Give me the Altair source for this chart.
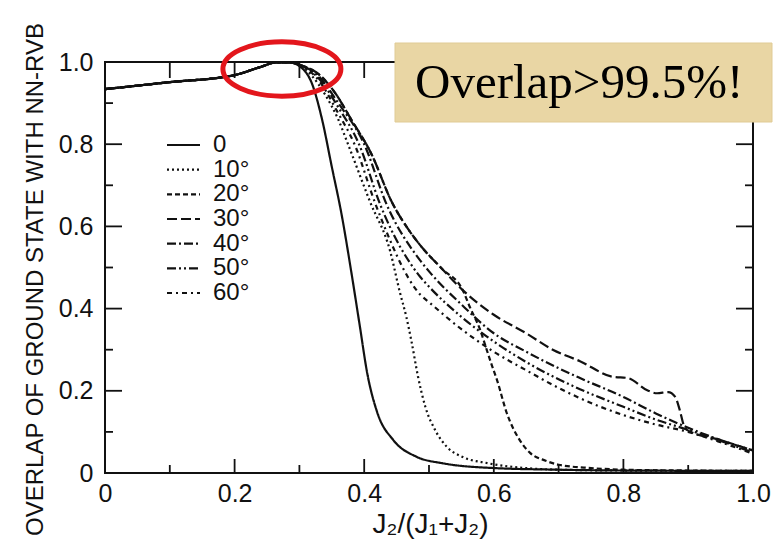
import altair as alt
import pandas as pd

# ---------------- data ----------------
series_labels = ["0", "10°", "20°", "30°", "40°", "50°", "60°"]

shared_x = [0.0, 0.1, 0.2, 0.24, 0.265, 0.285]
shared_y = [0.934, 0.951, 0.968, 0.988, 0.999, 0.999]

x_0 = [0.30, 0.32, 0.335, 0.35, 0.365, 0.38, 0.393, 0.405, 0.42, 0.445, 0.48, 0.52, 0.6, 0.7, 0.8, 1.0]
y_0 = [0.99, 0.945, 0.86, 0.745, 0.63, 0.49, 0.36, 0.24, 0.148, 0.08, 0.04, 0.024, 0.012, 0.008, 0.006, 0.005]

x_10 = [0.30, 0.32, 0.34, 0.36, 0.375, 0.409, 0.44, 0.455, 0.465, 0.473, 0.483, 0.494, 0.51, 0.528, 0.552, 0.59, 0.65, 0.7, 0.8, 1.0]
y_10 = [0.993, 0.965, 0.92, 0.86, 0.8, 0.66, 0.54, 0.44, 0.38, 0.32, 0.235, 0.163, 0.103, 0.063, 0.039, 0.024, 0.012, 0.008, 0.006, 0.005]

x_20 = [0.30, 0.33, 0.355, 0.38, 0.41, 0.444, 0.465, 0.486, 0.52, 0.552, 0.563, 0.579, 0.589, 0.597, 0.605, 0.62, 0.64, 0.656, 0.68, 0.70, 0.75, 0.8, 0.9, 1.0]
y_20 = [0.993, 0.97, 0.925, 0.86, 0.78, 0.655, 0.6, 0.555, 0.497, 0.445, 0.404, 0.348, 0.30, 0.262, 0.226, 0.146, 0.08, 0.049, 0.03, 0.02, 0.012, 0.008, 0.006, 0.005]

x_30 = [0.30, 0.33, 0.355, 0.38, 0.41, 0.444, 0.465, 0.486, 0.52, 0.552, 0.6, 0.65, 0.691, 0.733, 0.784, 0.807, 0.836, 0.852, 0.869, 0.88, 0.887, 0.893, 0.898, 0.95, 1.0]
y_30 = [0.993, 0.97, 0.925, 0.86, 0.78, 0.655, 0.6, 0.555, 0.497, 0.445, 0.385, 0.34, 0.3, 0.272, 0.234, 0.231, 0.202, 0.194, 0.197, 0.185, 0.153, 0.117, 0.105, 0.08, 0.055]

x_40 = [0.30, 0.33, 0.36, 0.40, 0.435, 0.486, 0.502, 0.55, 0.6, 0.65, 0.7, 0.733, 0.8, 0.85, 0.9, 0.95, 1.0]
y_40 = [0.993, 0.965, 0.9, 0.8, 0.652, 0.518, 0.487, 0.41, 0.34, 0.295, 0.255, 0.231, 0.185, 0.145, 0.11, 0.08, 0.055]

x_50 = [0.30, 0.33, 0.36, 0.392, 0.425, 0.486, 0.502, 0.55, 0.6, 0.65, 0.7, 0.733, 0.8, 0.85, 0.9, 0.95, 1.0]
y_50 = [0.993, 0.96, 0.89, 0.8, 0.652, 0.478, 0.45, 0.38, 0.32, 0.27, 0.228, 0.204, 0.161, 0.13, 0.105, 0.078, 0.05]

x_60 = [0.30, 0.33, 0.36, 0.385, 0.418, 0.486, 0.502, 0.55, 0.6, 0.65, 0.7, 0.733, 0.8, 0.85, 0.9, 0.95, 1.0]
y_60 = [0.993, 0.955, 0.875, 0.8, 0.652, 0.435, 0.413, 0.35, 0.295, 0.25, 0.207, 0.182, 0.141, 0.118, 0.1, 0.075, 0.047]

x_major_ticks = [0.0, 0.2, 0.4, 0.6, 0.8, 1.0]
x_minor_ticks = [0.1, 0.3, 0.5, 0.7, 0.9]
y_major_ticks = [0.0, 0.2, 0.4, 0.6, 0.8, 1.0]
y_minor_ticks = [0.1, 0.3, 0.5, 0.7, 0.9]

note_text = "Overlap>99.5%!"
x_title = "J₂/(J₁+J₂)"
y_title = "OVERLAP OF GROUND STATE WITH NN-RVB"

# ---------------- build tables ----------------
xs_all = [x_0, x_10, x_20, x_30, x_40, x_50, x_60]
ys_all = [y_0, y_10, y_20, y_30, y_40, y_50, y_60]
rows = []
for lab, xs, ys in zip(series_labels, xs_all, ys_all):
    full_x = shared_x + xs
    full_y = shared_y + ys
    for i, (a, b) in enumerate(zip(full_x, full_y)):
        rows.append({"series": lab, "x": a, "y": b, "i": i})
curves_df = pd.DataFrame(rows)

W, H = 648, 411
INK = "#111111"
SANS = "Liberation Sans"

xscale = alt.Scale(domain=[0, 1], nice=False, zero=False)
yscale = alt.Scale(domain=[0, 1], nice=False, zero=False)
dash_scale = alt.Scale(
    domain=series_labels,
    range=[[1, 0], [2, 3], [5, 3], [10, 4], [9, 3, 2, 3], [9, 3, 2, 3, 2, 3], [5, 4, 2, 4]],
)
label_expr = "datum.value == 0 ? '0' : format(datum.value, '.1f')"

x_axis = alt.Axis(
    values=x_major_ticks, ticks=False, domain=False, grid=False,
    labelExpr=label_expr, labelFontSize=25, labelFont=SANS, labelColor=INK,
    labelPadding=8, labelFlush=False, labelOverlap=False,
    title=x_title, titleFont=SANS, titleFontSize=28, titleFontWeight="normal",
    titleColor=INK, titleX=325, titleY=59, titleBaseline="alphabetic", titleAlign="center")
y_axis = alt.Axis(
    values=y_major_ticks, ticks=False, domain=False, grid=False,
    labelExpr=label_expr, labelFontSize=25, labelFont=SANS, labelColor=INK,
    labelPadding=12, labelFlush=False, labelOverlap=False,
    title=y_title, titleFont=SANS, titleFontSize=24, titleFontWeight="normal",
    titleColor=INK, titleX=-63, titleY=217, titleAngle=270,
    titleBaseline="alphabetic", titleAlign="center")

curves = alt.Chart(curves_df).mark_line(color=INK, strokeWidth=2.2, interpolate="monotone").encode(
    x=alt.X("x:Q", scale=xscale, axis=x_axis),
    y=alt.Y("y:Q", scale=yscale, axis=y_axis),
    strokeDash=alt.StrokeDash("series:N", scale=dash_scale, legend=None),
    detail="series:N",
    order="i:Q",
)


def ticks(vals, side, length):
    base = alt.Chart(pd.DataFrame({"v": vals})).mark_rule(color=INK, strokeWidth=1.8)
    if side == "bottom":
        return base.encode(x=alt.X("v:Q", scale=xscale, axis=x_axis), y=alt.value(H), y2=alt.value(H - length))
    if side == "top":
        return base.encode(x=alt.X("v:Q", scale=xscale, axis=x_axis), y=alt.value(0), y2=alt.value(length))
    if side == "left":
        return base.encode(y=alt.Y("v:Q", scale=yscale, axis=y_axis), x=alt.value(0), x2=alt.value(length))
    return base.encode(y=alt.Y("v:Q", scale=yscale, axis=y_axis), x=alt.value(W), x2=alt.value(W - length))


tick_layers = [
    ticks(x_major_ticks, "bottom", 14), ticks(x_minor_ticks, "bottom", 8),
    ticks(x_major_ticks + x_minor_ticks, "top", 16),
    ticks(y_major_ticks, "left", 17), ticks(y_minor_ticks, "left", 8),
    ticks(y_major_ticks, "right", 17), ticks(y_minor_ticks, "right", 8),
]

one = pd.DataFrame({"note": [note_text]})
ellipse_path = "M -1 0 A 1 0.46 0 1 1 1 0 A 1 0.46 0 1 1 -1 0 Z"
ellipse = alt.Chart(one).mark_point(
    shape=ellipse_path, size=13924, filled=False, stroke="#e3161c", strokeWidth=5, opacity=1
).encode(x=alt.X(datum=0.273, scale=xscale, axis=x_axis),
         y=alt.Y(datum=0.983, scale=yscale, axis=y_axis))

box = alt.Chart(one).mark_rect(fill="#e9d6a4", stroke="#e0cb95", strokeWidth=1).encode(
    x=alt.value(290), x2=alt.value(667), y=alt.value(-19), y2=alt.value(60))
box_text = alt.Chart(one).mark_text(
    font="Liberation Serif", fontSize=49, align="left", baseline="alphabetic", color="#000"
).encode(x=alt.value(310), y=alt.value(36), text="note:N")

main = alt.layer(curves, *tick_layers, ellipse, box, box_text)

legend_df = pd.DataFrame({"series": series_labels})
ly = alt.Y("series:N", scale=alt.Scale(type="point", domain=series_labels, range=[83, 231], padding=0), axis=None)
leg_lines = alt.Chart(legend_df).mark_rule(color=INK, strokeWidth=2.2).encode(
    y=ly, x=alt.value(62), x2=alt.value(95),
    strokeDash=alt.StrokeDash("series:N", scale=dash_scale, legend=None))
leg_text = alt.Chart(legend_df).mark_text(
    align="left", baseline="middle", fontSize=24, font=SANS, color=INK
).encode(y=ly, x=alt.value(108), text="series:N")
legend = alt.layer(leg_lines, leg_text)

chart = alt.layer(main, legend).resolve_scale(y="independent").properties(
    width=W, height=H,
    padding={"left": 97, "top": 54, "right": 22, "bottom": 70},
    autosize=alt.AutoSizeParams(type="none"),
    background="white",
).configure_view(stroke=INK, strokeWidth=2)

chart.save("out.html", embed_options={"renderer": "svg", "actions": False})
